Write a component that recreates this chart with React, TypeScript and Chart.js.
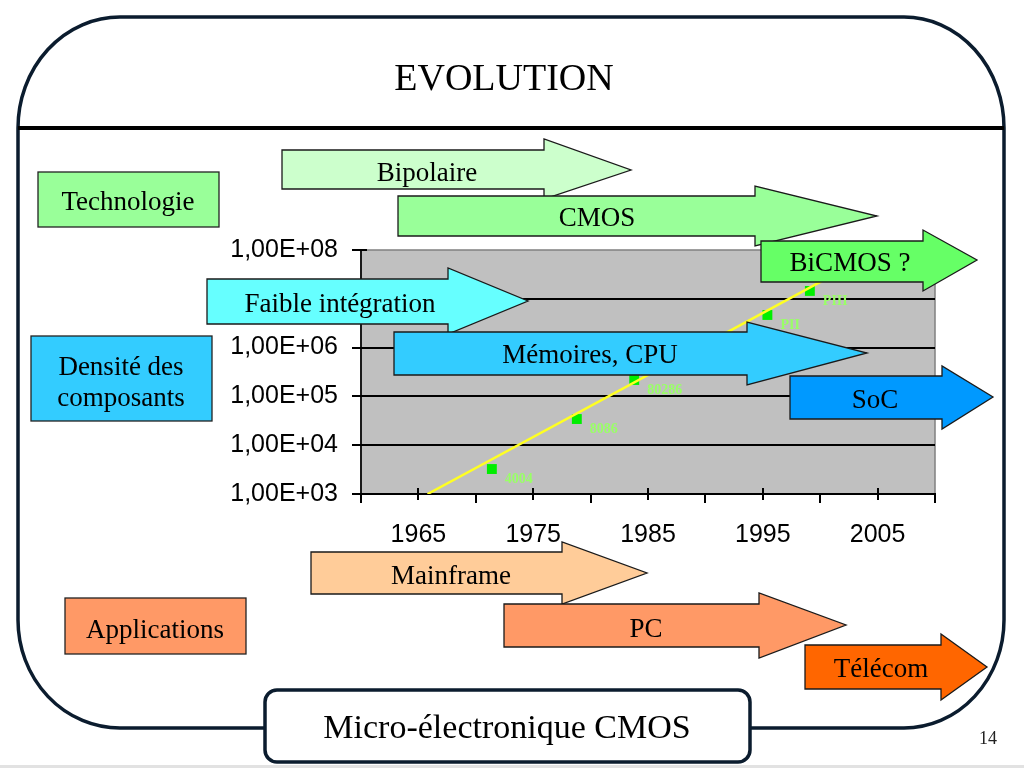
import React, { useEffect, useRef } from 'react';
import { Chart, registerables } from 'chart.js';

Chart.register(...registerables);

// ---- data ----
const chipNames = ['4004', '8086', '80286', 'PII', 'PIII'];
const chipYears = [1971.4, 1978.8, 1983.8, 1995.4, 1999.1];
const chipTransistors = [3250, 34400, 217000, 4660000, 14500000];
const trendYears = [1965.8, 2003];
const trendTransistors = [1000, 53000000];
const yTickValues = [1e3, 1e4, 1e5, 1e6, 1e7, 1e8];
const xTickYears = [1960, 1965, 1970, 1975, 1980, 1985, 1990, 1995, 2000, 2005, 2010];
const xLabelYears = [1965, 1975, 1985, 1995, 2005];
const titleText = 'EVOLUTION';
const footerText = 'Micro-électronique CMOS';
const pageNumber = '14';

// ---- decoration layout (slide shapes) ----
type ArrowDef = {
  text: string; fill: string; x0: number; hx: number; tip: number;
  sTop: number; sBot: number; hTop: number; hBot: number; tipY: number; tx: number; ty: number;
};
const arrows: ArrowDef[] = [
  { text: 'Bipolaire', fill: '#ccffcc', x0: 282, hx: 544, tip: 631, sTop: 150, sBot: 189, hTop: 139, hBot: 199, tipY: 170, tx: 427, ty: 172 },
  { text: 'CMOS', fill: '#99ff99', x0: 398, hx: 755, tip: 877, sTop: 196, sBot: 236, hTop: 186, hBot: 246, tipY: 216, tx: 597, ty: 217 },
  { text: 'BiCMOS ?', fill: '#66ff66', x0: 761, hx: 923, tip: 977, sTop: 241, sBot: 282, hTop: 230, hBot: 291, tipY: 260, tx: 850, ty: 262 },
  { text: 'Faible intégration', fill: '#66ffff', x0: 207, hx: 448, tip: 528, sTop: 279, sBot: 324, hTop: 268, hBot: 334, tipY: 301, tx: 340, ty: 303 },
  { text: 'Mémoires, CPU', fill: '#33ccff', x0: 394, hx: 747, tip: 867, sTop: 332, sBot: 375, hTop: 322, hBot: 385, tipY: 353, tx: 590, ty: 354 },
  { text: 'SoC', fill: '#0099ff', x0: 790, hx: 942, tip: 993, sTop: 376, sBot: 419, hTop: 366, hBot: 429, tipY: 397, tx: 875, ty: 399 },
  { text: 'Mainframe', fill: '#ffcc99', x0: 311, hx: 562, tip: 647, sTop: 552, sBot: 594, hTop: 542, hBot: 604, tipY: 573, tx: 451, ty: 575 },
  { text: 'PC', fill: '#ff9966', x0: 504, hx: 759, tip: 846, sTop: 604, sBot: 647, hTop: 593, hBot: 658, tipY: 625, tx: 646, ty: 628 },
  { text: 'Télécom', fill: '#ff6600', x0: 805, hx: 941, tip: 987, sTop: 645, sBot: 689, hTop: 634, hBot: 700, tipY: 667, tx: 881, ty: 668 },
];
type BoxDef = { lines: string[]; fill: string; x: number; y: number; w: number; h: number; cx: number; cy: number };
const boxes: BoxDef[] = [
  { lines: ['Technologie'], fill: '#99ff99', x: 38, y: 172, w: 181, h: 55, cx: 128, cy: 201 },
  { lines: ['Densité des', 'composants'], fill: '#33ccff', x: 31, y: 336, w: 181, h: 85, cx: 121, cy: 381 },
  { lines: ['Applications'], fill: '#ff9966', x: 65, y: 598, w: 181, h: 56, cx: 155, cy: 629 },
];

const SERIF = '"Liberation Serif", "Times New Roman", serif';
const SANS = '"Liberation Sans", Arial, sans-serif';
const FRAME = '#0b1c2e';
const TEXT_DY = 2;

function fmtSci(v: number) {
  const e = Math.round(Math.log10(v));
  return '1,00E+' + String(e).padStart(2, '0');
}

const slidePlugin = {
  id: 'slide',
  beforeDraw(chart: any) {
    const ctx = chart.ctx as CanvasRenderingContext2D;
    const ca = chart.chartArea;
    ctx.save();
    ctx.fillStyle = '#ffffff';
    ctx.fillRect(0, 0, chart.width, chart.height);
    // outer frame
    ctx.strokeStyle = FRAME;
    ctx.lineWidth = 3.5;
    ctx.beginPath();
    ctx.moveTo(265, 728);
    ctx.lineTo(120, 728);
    ctx.ellipse(120, 620, 102, 108, 0, Math.PI / 2, Math.PI);
    ctx.lineTo(18, 128);
    ctx.ellipse(120, 128, 102, 111, 0, Math.PI, Math.PI * 1.5);
    ctx.lineTo(904, 17);
    ctx.ellipse(904, 128, 100, 111, 0, Math.PI * 1.5, Math.PI * 2);
    ctx.lineTo(1004, 620);
    ctx.ellipse(904, 620, 100, 108, 0, 0, Math.PI / 2);
    ctx.lineTo(750, 728);
    ctx.stroke();
    // separator
    ctx.fillStyle = '#000';
    ctx.fillRect(18, 126, 986, 4);
    // footer box
    ctx.beginPath();
    ctx.roundRect(265, 690, 485, 72, 12);
    ctx.fillStyle = '#fff';
    ctx.fill();
    ctx.lineWidth = 3.5;
    ctx.strokeStyle = FRAME;
    ctx.stroke();
    // texts
    ctx.fillStyle = '#000';
    ctx.textAlign = 'center';
    ctx.textBaseline = 'middle';
    ctx.font = `38px ${SERIF}`;
    ctx.fillText(titleText, 504, 80);
    ctx.font = `34px ${SERIF}`;
    ctx.fillText(footerText, 507, 729);
    ctx.font = `18px ${SERIF}`;
    ctx.fillStyle = '#222';
    ctx.fillText(pageNumber, 988, 739);
    // bottom light band
    ctx.fillStyle = '#e2e2e2';
    ctx.fillRect(0, 765, chart.width, 3);
    // plot area background
    ctx.fillStyle = '#c0c0c0';
    ctx.fillRect(ca.left, ca.top, ca.right - ca.left, ca.bottom - ca.top);
    ctx.strokeStyle = '#808080';
    ctx.lineWidth = 1.5;
    ctx.strokeRect(ca.left, ca.top, ca.right - ca.left, ca.bottom - ca.top);
    ctx.restore();
  },
  afterDatasetsDraw(chart: any) {
    const ctx = chart.ctx as CanvasRenderingContext2D;
    const meta = chart.getDatasetMeta(1);
    ctx.save();
    ctx.fillStyle = '#99ff66';
    ctx.font = `bold 14px ${SERIF}`;
    ctx.textAlign = 'left';
    ctx.textBaseline = 'middle';
    meta.data.forEach((pt: any, i: number) => {
      ctx.fillText(chipNames[i], pt.x + 13, pt.y + 10);
    });
    ctx.restore();
  },
  afterDraw(chart: any) {
    const ctx = chart.ctx as CanvasRenderingContext2D;
    const ca = chart.chartArea;
    const xs = chart.scales.x;
    const ys = chart.scales.y;
    ctx.save();
    // tick marks
    ctx.strokeStyle = '#000';
    ctx.lineWidth = 2;
    ctx.beginPath();
    yTickValues.forEach((v) => {
      const y = Math.round(ys.getPixelForValue(v));
      ctx.moveTo(ca.left - 9, y);
      ctx.lineTo(ca.left + 6, y);
    });
    xTickYears.forEach((yr) => {
      const x = Math.round(xs.getPixelForValue(yr));
      if (xLabelYears.includes(yr)) {
        ctx.moveTo(x, ca.bottom - 6);
        ctx.lineTo(x, ca.bottom + 6);
      } else {
        ctx.moveTo(x, ca.bottom);
        ctx.lineTo(x, ca.bottom + 9);
      }
    });
    ctx.stroke();
    // arrows
    ctx.font = `27px ${SERIF}`;
    ctx.textAlign = 'center';
    ctx.textBaseline = 'middle';
    arrows.forEach((a) => {
      ctx.beginPath();
      ctx.moveTo(a.x0, a.sTop);
      ctx.lineTo(a.hx, a.sTop);
      ctx.lineTo(a.hx, a.hTop);
      ctx.lineTo(a.tip, a.tipY);
      ctx.lineTo(a.hx, a.hBot);
      ctx.lineTo(a.hx, a.sBot);
      ctx.lineTo(a.x0, a.sBot);
      ctx.closePath();
      ctx.fillStyle = a.fill;
      ctx.fill();
      ctx.lineWidth = 1.3;
      ctx.strokeStyle = '#1a1a1a';
      ctx.stroke();
      ctx.fillStyle = '#000';
      ctx.fillText(a.text, a.tx, a.ty + TEXT_DY);
    });
    // label boxes
    boxes.forEach((b) => {
      ctx.fillStyle = b.fill;
      ctx.fillRect(b.x, b.y, b.w, b.h);
      ctx.lineWidth = 1.3;
      ctx.strokeStyle = '#222';
      ctx.strokeRect(b.x, b.y, b.w, b.h);
      ctx.fillStyle = '#000';
      const lh = 31;
      const start = b.cy - ((b.lines.length - 1) * lh) / 2;
      b.lines.forEach((ln, i) => ctx.fillText(ln, b.cx, start + i * lh + TEXT_DY));
    });
    ctx.restore();
  },
};

export default function App() {
  const ref = useRef<HTMLCanvasElement | null>(null);
  useEffect(() => {
    document.body.style.margin = '0';
    const canvas = ref.current;
    if (!canvas) return;
    const chart = new Chart(canvas, {
      type: 'scatter',
      data: {
        datasets: [
          {
            label: 'Tendance',
            data: trendYears.map((x, i) => ({ x, y: trendTransistors[i] })),
            showLine: true,
            borderColor: '#ffff22',
            borderWidth: 2.5,
            pointRadius: 0,
            fill: false,
          },
          {
            label: 'Processeurs',
            data: chipYears.map((x, i) => ({ x, y: chipTransistors[i] })),
            pointStyle: 'rect',
            pointRadius: 7,
            backgroundColor: '#00ee00',
            borderWidth: 0,
          },
        ],
      },
      options: {
        animation: false,
        responsive: false,
        devicePixelRatio: 1,
        layout: { padding: { left: 0, top: 250, right: 89, bottom: 214 } },
        plugins: {
          legend: { display: false },
          tooltip: { enabled: false },
          title: { display: false },
        },
        scales: {
          x: {
            type: 'linear',
            min: 1960,
            max: 2010,
            afterBuildTicks: (s: any) => {
              s.ticks = xTickYears.map((v) => ({ value: v }));
            },
            afterFit: (s: any) => {
              s.height = 60;
            },
            ticks: {
              autoSkip: false,
              maxRotation: 0,
              padding: 26,
              color: '#000',
              font: { family: SANS, size: 25 },
              callback: (v: any) => (xLabelYears.includes(Number(v)) ? String(v) : ''),
            },
            grid: { display: false, drawTicks: false },
            border: { display: true, color: '#000', width: 2 },
          },
          y: {
            type: 'logarithmic',
            min: 1e3,
            max: 1e8,
            afterBuildTicks: (s: any) => {
              s.ticks = yTickValues.map((v) => ({ value: v }));
            },
            afterFit: (s: any) => {
              s.width = 361;
            },
            ticks: {
              padding: 23,
              color: '#000',
              font: { family: SANS, size: 25 },
              callback: (v: any) => fmtSci(Number(v)),
            },
            grid: {
              drawTicks: false,
              lineWidth: 2,
              color: (c: any) =>
                c.tick && c.tick.value > 1e3 && c.tick.value < 1e8 ? '#000' : 'rgba(0,0,0,0)',
            },
            border: { display: true, color: '#1a1a1a', width: 2 },
          },
        },
      },
      plugins: [slidePlugin],
    } as any);
    return () => chart.destroy();
  }, []);
  return (
    <div style={{ position: 'absolute', left: 0, top: 0, width: 1024, height: 768 }}>
      <canvas ref={ref} width={1024} height={768} style={{ display: 'block', width: 1024, height: 768 }} />
    </div>
  );
}
